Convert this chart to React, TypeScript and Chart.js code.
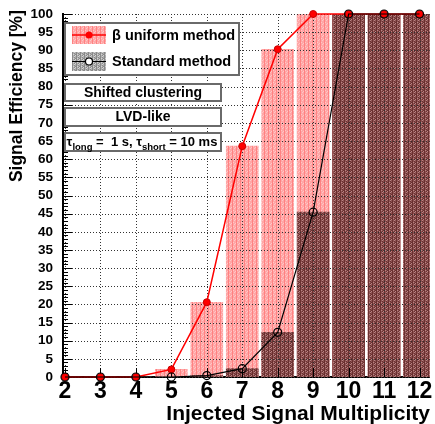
import { useEffect, useRef } from 'react';
import { Chart, registerables } from 'chart.js';

Chart.register(...registerables);

const multiplicity = [2, 3, 4, 5, 6, 7, 8, 9, 10, 11, 12];
const betaUniform = [0, 0, 0, 2.1, 20.6, 63.6, 90.3, 100, 100, 100, 100];
const standard = [0, 0, 0, 0, 0.4, 2.3, 12.3, 45.4, 100, 100, 100];
const xTicks = [2, 3, 4, 5, 6, 7, 8, 9, 10, 11, 12];
const yTicks = [0, 5, 10, 15, 20, 25, 30, 35, 40, 45, 50, 55, 60, 65, 70, 75, 80, 85, 90, 95, 100];
const seriesNames = ['β uniform method', 'Standard method'];
const infoLines = ['Shifted clustering', 'LVD-like'];
const tauSegments = [
  { t: 'τ', sub: false },
  { t: 'long', sub: true },
  { t: ' =  1 s, τ', sub: false },
  { t: 'short', sub: true },
  { t: ' = 10 ms', sub: false },
];
const xTitle = 'Injected Signal Multiplicity';
const yTitle = 'Signal Efficiency [%]';

const FONT = "'Liberation Sans', Arial, Helvetica, sans-serif";

function makePattern(rows: string[][]): CanvasPattern | string {
  const c = document.createElement('canvas');
  c.width = rows[0].length;
  c.height = rows.length;
  const g = c.getContext('2d');
  if (!g) return rows[0][0];
  rows.forEach((row, y) =>
    row.forEach((col, x) => {
      g.fillStyle = col;
      g.fillRect(x, y, 1, 1);
    })
  );
  return g.createPattern(c, 'repeat') || rows[0][0];
}

const P1 = '#ff8282';
const P2 = '#ffa6a6';
const P3 = '#ffc6c6';
const pinkRows = [
  [P1, P2, P3, P2],
  [P1, P2, P2, P2],
  [P1, P3, P2, P2],
  [P1, P2, P2, P3],
];
const D1 = '#6a3030';
const D2 = '#8e5252';
const D3 = '#b98484';
const darkRows = [
  [D1, D2, D3, D2],
  [D1, D2, D1, D2],
  [D1, D3, D2, D1],
  [D1, D2, D1, D3],
];
const G1 = '#8a8a8a';
const G2 = '#b0b0b0';
const G3 = '#d4d4d4';
const grayRows = [
  [G1, G2, G3, G2],
  [G1, G2, G1, G2],
  [G1, G3, G2, G1],
  [G1, G2, G1, G3],
];

function drawPave(ctx: CanvasRenderingContext2D, x0: number, y0: number, x1: number, y1: number) {
  ctx.fillStyle = '#ffffff';
  ctx.fillRect(x0, y0, x1 - x0, y1 - y0);
  ctx.strokeStyle = '#6a6a6a';
  ctx.lineWidth = 2;
  ctx.strokeRect(x0 + 1, y0 + 1, x1 - x0 - 2, y1 - y0 - 2);
}

export default function App() {
  const ref = useRef<HTMLCanvasElement | null>(null);

  useEffect(() => {
    const canvas = ref.current;
    if (!canvas) return;
    const pink = makePattern(pinkRows);
    const dark = makePattern(darkRows);
    const gray = makePattern(grayRows);

    const decor = {
      id: 'decor',
      afterDatasetDraw(chart: any, args: any) {
        if (args.index !== 1) return;
        const { ctx, chartArea: a } = chart;
        const x = chart.scales.x;
        const y = chart.scales.y;
        ctx.save();
        ctx.strokeStyle = '#333';
        ctx.lineWidth = 1;
        ctx.setLineDash([1, 2]);
        ctx.beginPath();
        for (const v of xTicks) {
          const px = Math.round(x.getPixelForValue(v)) + 0.5;
          ctx.moveTo(px, a.top);
          ctx.lineTo(px, a.bottom);
        }
        for (const v of yTicks) {
          const py = Math.round(y.getPixelForValue(v)) + 0.5;
          ctx.moveTo(a.left, py);
          ctx.lineTo(a.right, py);
        }
        ctx.stroke();
        ctx.setLineDash([]);
        ctx.strokeStyle = '#000';
        ctx.beginPath();
        for (let v = 0; v <= 100; v += 1) {
          const py = Math.round(y.getPixelForValue(v)) + 0.5;
          const len = v % 5 === 0 ? 9 : 5;
          ctx.moveTo(a.left, py);
          ctx.lineTo(a.left + len, py);
        }
        for (const v of xTicks) {
          const px = Math.round(x.getPixelForValue(v)) + 0.5;
          ctx.moveTo(px, a.bottom);
          ctx.lineTo(px, a.bottom - 9);
        }
        ctx.stroke();
        ctx.restore();
      },
      afterDraw(chart: any) {
        const ctx: CanvasRenderingContext2D = chart.ctx;
        ctx.save();
        // legend
        drawPave(ctx, 64, 22, 240, 76);
        ctx.fillStyle = pink as any;
        ctx.fillRect(72, 26, 34, 18);
        ctx.fillStyle = gray as any;
        ctx.fillRect(72, 52, 34, 19);
        ctx.strokeStyle = '#ff0000';
        ctx.lineWidth = 1.5;
        ctx.beginPath();
        ctx.moveTo(72, 35);
        ctx.lineTo(106, 35);
        ctx.stroke();
        ctx.fillStyle = '#ff0000';
        ctx.beginPath();
        ctx.arc(89, 35, 3.5, 0, Math.PI * 2);
        ctx.fill();
        ctx.strokeStyle = '#000';
        ctx.lineWidth = 1.2;
        ctx.beginPath();
        ctx.moveTo(72, 61.5);
        ctx.lineTo(106, 61.5);
        ctx.stroke();
        ctx.fillStyle = '#ffffff';
        ctx.beginPath();
        ctx.arc(89, 61.5, 3.5, 0, Math.PI * 2);
        ctx.fill();
        ctx.stroke();
        ctx.fillStyle = '#000';
        ctx.font = `bold 14.5px ${FONT}`;
        ctx.textAlign = 'left';
        ctx.textBaseline = 'middle';
        ctx.fillText(seriesNames[0], 112, 36);
        ctx.fillText(seriesNames[1], 112, 62);

        // info paves
        const paves = [
          [83, 102],
          [107, 127],
          [132, 152],
        ];
        paves.forEach(([t, b]) => drawPave(ctx, 64, t, 222, b));
        ctx.fillStyle = '#000';
        ctx.font = `bold 14px ${FONT}`;
        ctx.textAlign = 'center';
        ctx.fillText(infoLines[0], 143, 93);
        ctx.fillText(infoLines[1], 143, 117.5);

        // tau line
        const mainFont = `bold 13px ${FONT}`;
        const subFont = `bold 9.5px ${FONT}`;
        let total = 0;
        for (const s of tauSegments) {
          ctx.font = s.sub ? subFont : mainFont;
          total += ctx.measureText(s.t).width;
        }
        let cx = 142 - total / 2;
        ctx.textAlign = 'left';
        ctx.textBaseline = 'alphabetic';
        for (const s of tauSegments) {
          ctx.font = s.sub ? subFont : mainFont;
          ctx.fillText(s.t, cx, s.sub ? 149.5 : 145.5);
          cx += ctx.measureText(s.t).width;
        }

        // axis titles
        ctx.font = `bold 21px ${FONT}`;
        ctx.textAlign = 'right';
        ctx.textBaseline = 'alphabetic';
        ctx.fillText(xTitle, 430, 420);
        ctx.save();
        ctx.translate(17, 10);
        ctx.rotate(-Math.PI / 2);
        ctx.font = `bold 17.5px ${FONT}`;
        ctx.textAlign = 'right';
        ctx.textBaseline = 'middle';
        ctx.fillText(yTitle, 0, 0);
        ctx.restore();
        ctx.restore();
      },
    };

    const chart = new Chart(canvas, {
      type: 'bar',
      data: {
        datasets: [
          {
            type: 'bar',
            label: seriesNames[0] + ' hist',
            data: multiplicity.map((m, i) => ({ x: m, y: betaUniform[i] })),
            backgroundColor: pink as any,
            borderWidth: 0,
            barThickness: 32,
            grouped: false,
            order: 4,
          } as any,
          {
            type: 'bar',
            label: seriesNames[1] + ' hist',
            data: multiplicity.map((m, i) => ({ x: m, y: standard[i] })),
            backgroundColor: dark as any,
            borderWidth: 0,
            barThickness: 32,
            grouped: false,
            order: 3,
          } as any,
          {
            type: 'line',
            label: seriesNames[0],
            data: multiplicity.map((m, i) => ({ x: m, y: betaUniform[i] })),
            borderColor: '#ff0000',
            borderWidth: 1.5,
            pointBackgroundColor: '#ff0000',
            pointBorderColor: '#c80000',
            pointBorderWidth: 1,
            pointRadius: 3.5,
            tension: 0,
            clip: false,
            order: 2,
          } as any,
          {
            type: 'line',
            label: seriesNames[1],
            data: multiplicity.map((m, i) => ({ x: m, y: standard[i] })),
            borderColor: '#000000',
            borderWidth: 1.2,
            pointBackgroundColor: 'rgba(0,0,0,0)',
            pointBorderColor: '#000000',
            pointBorderWidth: 1.2,
            pointRadius: 4,
            tension: 0,
            clip: false,
            order: 1,
          } as any,
        ],
      },
      options: {
        responsive: false,
        animation: false,
        layout: { padding: { left: 0, top: 14, right: 3, bottom: 0 } },
        plugins: { legend: { display: false }, tooltip: { enabled: false } },
        scales: {
          x: {
            type: 'linear',
            offset: false,
            min: 1.944,
            max: 12.29,
            grid: { display: false, drawTicks: false, offset: false },
            border: { display: true, color: '#000', width: 2 },
            ticks: {
              font: { family: FONT, size: 23, weight: 'bold' },
              color: '#000',
              padding: 1,
              maxRotation: 0,
              autoSkip: false,
            },
            afterBuildTicks: (s: any) => {
              s.ticks = xTicks.map((v) => ({ value: v }));
            },
            afterFit: (s: any) => {
              s.height = 47;
              s.paddingLeft = 0;
              s.paddingRight = 0;
            },
          },
          y: {
            type: 'linear',
            min: 0,
            max: 100,
            grid: { display: false, drawTicks: false },
            border: { display: true, color: '#000', width: 2 },
            ticks: {
              font: { family: FONT, size: 13.5, weight: 'bold' },
              color: '#000',
              padding: 10,
              autoSkip: false,
            },
            afterBuildTicks: (s: any) => {
              s.ticks = yTicks.map((v) => ({ value: v }));
            },
            afterFit: (s: any) => {
              s.width = 63;
              s.paddingTop = 0;
              s.paddingBottom = 0;
            },
          },
        },
      } as any,
      plugins: [decor as any],
    });
    return () => chart.destroy();
  }, []);

  return (
    <div style={{ position: 'fixed', left: 0, top: 0, width: 435, height: 424, background: '#fff' }}>
      <canvas ref={ref} width={435} height={424} style={{ display: 'block' }} />
    </div>
  );
}
